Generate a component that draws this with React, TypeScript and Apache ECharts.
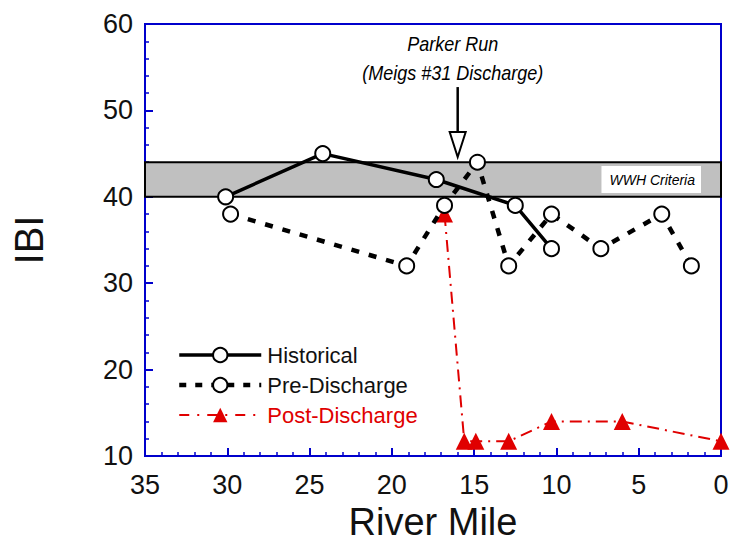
import React, { useEffect, useRef } from "react";
import * as echarts from "echarts";

const historicalMiles = [30.1, 24.2, 17.3, 12.5, 10.3];
const historicalIBI = [40, 45, 42, 39, 34];

const preMiles = [29.8, 19.1, 16.8, 14.8, 12.9, 10.3, 7.3, 3.6, 1.8];
const preIBI = [38, 32, 39, 44, 32, 38, 34, 38, 32];

const postMiles = [16.8, 15.6, 14.9, 12.9, 10.3, 6.0, 0];
const postIBI = [38, 11.7, 11.7, 11.7, 14, 14, 11.7];

const criteriaLow = 40;
const criteriaHigh = 44;
const dischargeMile = 16;
const arrowTipIBI = 44.6;
const arrowTopIBI = 52.7;

const FONT = "'Liberation Sans', Arial, Helvetica, sans-serif";
const BLUE = "#0000cc";
const RED = "#e00000";

const zip = (xs: number[], ys: number[]) => xs.map((x, i) => [x, ys[i]]);

export default function App() {
  const ref = useRef<HTMLDivElement>(null);
  useEffect(() => {
    if (!ref.current) return;
    const chart = echarts.init(ref.current, undefined, { renderer: "svg" });
    const axisCommon = {
      axisLine: { show: true, onZero: false, lineStyle: { color: BLUE, width: 2 } },
      axisTick: { show: true, inside: true, length: 8, lineStyle: { color: BLUE, width: 2 } },
      minorTick: { show: true, splitNumber: 5, length: 4, lineStyle: { color: BLUE, width: 1.5 } },
      splitLine: { show: false },
      axisLabel: { color: "#111", fontSize: 27, fontFamily: FONT },
    };
    chart.setOption({
      animation: false,
      backgroundColor: "#fff",
      grid: {
        left: 145,
        right: 16,
        top: 24,
        bottom: 86,
        show: true,
        borderColor: BLUE,
        borderWidth: 2,
      },
      xAxis: {
        type: "value",
        min: 0,
        max: 35,
        interval: 5,
        inverse: true,
        name: "River Mile",
        nameLocation: "middle",
        nameGap: 47,
        nameTextStyle: { fontSize: 38, color: "#111", fontFamily: FONT },
        ...axisCommon,
        axisLabel: { ...axisCommon.axisLabel, margin: 15 },
      },
      yAxis: {
        type: "value",
        min: 10,
        max: 60,
        interval: 10,
        name: "IBI",
        nameLocation: "middle",
        nameGap: 96,
        nameRotate: 90,
        nameTextStyle: { fontSize: 40, color: "#111", fontFamily: FONT },
        ...axisCommon,
        axisLabel: { ...axisCommon.axisLabel, margin: 12 },
      },
      legend: {
        left: 172,
        top: 339,
        orient: "vertical",
        itemWidth: 82,
        itemHeight: 18,
        itemGap: 8,
        textStyle: { fontSize: 22, color: "#111", fontFamily: FONT, padding: [0, 0, 0, 1] },
        data: [
          { name: "Historical", lineStyle: { width: 3.5 } },
          { name: "Pre-Discharge", lineStyle: { width: 4.5, type: [7, 9] } },
          { name: "Post-Discharge", lineStyle: { width: 2, type: [10, 8, 2, 8] }, textStyle: { color: RED } },
        ],
      },
      series: [
        {
          name: "Historical",
          type: "line",
          data: zip(historicalMiles, historicalIBI),
          z: 4,
          symbol: "circle",
          symbolSize: 15,
          lineStyle: { color: "#000", width: 3.5 },
          itemStyle: { color: "#fff", borderColor: "#000", borderWidth: 2 },
          markArea: {
            silent: true,
            itemStyle: { color: "#c0c0c0", borderColor: "#000", borderWidth: 2 },
            label: {
              show: true,
              position: "insideRight",
              distance: 21,
              formatter: "WWH Criteria",
              backgroundColor: "#fff",
              padding: [7, 6, 6, 8],
              fontStyle: "italic",
              fontSize: 14,
              color: "#000",
              fontFamily: FONT,
            },
            data: [[{ yAxis: criteriaLow }, { yAxis: criteriaHigh }]],
          },
        },
        {
          name: "Pre-Discharge",
          type: "line",
          data: zip(preMiles, preIBI),
          z: 3,
          symbol: "circle",
          symbolSize: 15,
          lineStyle: { color: "#000", width: 4.5, type: [8, 10] },
          itemStyle: { color: "#fff", borderColor: "#000", borderWidth: 2 },
        },
        {
          name: "Post-Discharge",
          type: "line",
          data: zip(postMiles, postIBI),
          z: 2,
          symbol: "triangle",
          symbolSize: 17,
          lineStyle: { color: RED, width: 2, type: [12, 6, 2, 6] },
          itemStyle: { color: RED },
        },
      ],
    });

    const tip = chart.convertToPixel({ gridIndex: 0 }, [dischargeMile, arrowTipIBI]) as number[];
    const top = chart.convertToPixel({ gridIndex: 0 }, [dischargeMile, arrowTopIBI]) as number[];
    const cx = tip[0] - 5;
    const textStyle = {
      fontSize: 20,
      fontStyle: "italic",
      fontFamily: FONT,
      fill: "#000",
      align: "center",
      verticalAlign: "middle",
    };
    chart.setOption({
      graphic: [
        {
          type: "line",
          shape: { x1: tip[0], y1: top[1], x2: tip[0], y2: tip[1] - 20 },
          style: { stroke: "#000", lineWidth: 2.5 },
          z: 10,
        },
        {
          type: "polygon",
          shape: {
            points: [
              [tip[0] - 8, tip[1] - 25],
              [tip[0] + 8, tip[1] - 25],
              [tip[0], tip[1]],
            ],
          },
          style: { fill: "#fff", stroke: "#000", lineWidth: 2 },
          z: 10,
        },
        {
          type: "text",
          x: cx,
          y: top[1] - 43,
          scaleX: 0.9,
          style: { ...textStyle, text: "Parker Run" },
          z: 10,
        },
        {
          type: "text",
          x: cx,
          y: top[1] - 14,
          scaleX: 0.9,
          style: { ...textStyle, text: "(Meigs #31 Discharge)" },
          z: 10,
        },
      ],
    });

    return () => chart.dispose();
  }, []);
  return <div ref={ref} style={{ width: 737, height: 546, position: "absolute", left: 0, top: 0 }} />;
}
